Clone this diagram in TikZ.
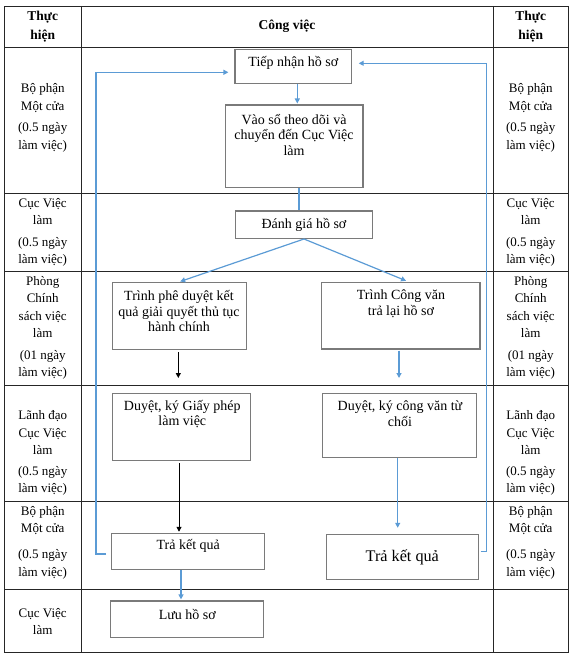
\documentclass[tikz,border=0pt]{standalone}
\usepackage{fontspec}
\setmainfont{Liberation Serif}
\usetikzlibrary{arrows.meta}
\definecolor{flowblue}{HTML}{5B9BD5}
\definecolor{boxgray}{HTML}{7A7A7A}
\begin{document}
\begin{tikzpicture}[x=1pt,y=-1pt,
  grid/.style={line width=0.9pt, draw=black!85},
  box/.style={draw=boxgray, line width=1.1pt, inner sep=0pt},
  boxtext/.style={align=center, font=\fontsize{14}{15.5}\selectfont, inner sep=0pt},
  cell/.style={align=center, font=\fontsize{13}{17.5}\selectfont, inner sep=0pt},
  head/.style={align=center, font=\bfseries\fontsize{13.5}{19}\selectfont, inner sep=0pt},
  flow/.style={draw=flowblue, line width=1.2pt, -{Triangle[width=5pt,length=5pt]}},
  flowline/.style={draw=flowblue, line width=1.2pt},
  blk/.style={draw=black, line width=1pt, -{Triangle[width=5pt,length=5pt]}}]
\useasboundingbox (0,0) rectangle (576,663);

% table
\draw[grid] (4,6) rectangle (568.5,652);
\draw[grid] (81.5,6) -- (81.5,652);
\draw[grid] (493,6) -- (493,652);
\foreach \yy in {47,193.5,271,385,501.7,589} \draw[grid] (4,\yy) -- (568.5,\yy);

% headers
\node[head] (h1) at (42.7,26.2) {Thực\\hiện};
\node[head] (h2) at (287,26.5) {Công việc};
\node[head] (h3) at (530.7,26.2) {Thực\\hiện};

% left column
\node[cell] (l1) at (42.7,118) {Bộ phận\\Một cửa\\[4pt](0.5 ngày\\làm việc)};
\node[cell] (l2) at (42.7,232.5) {Cục Việc\\làm\\[4pt](0.5 ngày\\làm việc)};
\node[cell] (l3) at (42.7,328) {Phòng\\Chính\\sách việc\\làm\\[4pt](01 ngày\\làm việc)};
\node[cell] (l4) at (42.7,453) {Lãnh đạo\\Cục Việc\\làm\\[3pt](0.5 ngày\\làm việc)};
\node[cell] (l5) at (42.7,542.7) {Bộ phận\\Một cửa\\[8.5pt](0.5 ngày\\làm việc)};
\node[cell] (l6) at (42.7,621.7) {Cục Việc\\làm};

% right column
\node[cell] (r1) at (530.7,118) {Bộ phận\\Một cửa\\[4pt](0.5 ngày\\làm việc)};
\node[cell] (r2) at (530.7,232.5) {Cục Việc\\làm\\[4pt](0.5 ngày\\làm việc)};
\node[cell] (r3) at (530.7,328) {Phòng\\Chính\\sách việc\\làm\\[4pt](01 ngày\\làm việc)};
\node[cell] (r4) at (530.7,453) {Lãnh đạo\\Cục Việc\\làm\\[3pt](0.5 ngày\\làm việc)};
\node[cell] (r5) at (530.7,542.7) {Bộ phận\\Một cửa\\[8.5pt](0.5 ngày\\làm việc)};

% boxes
\node[box, minimum width=116.7pt, minimum height=34pt] (tn) at (293.3,66.3) {};
\node[box, minimum width=137.3pt, minimum height=82.3pt] (vs) at (294.3,146.2) {};
\node[box, minimum width=136.6pt, minimum height=27.5pt] (dg) at (304,224.7) {};
\node[box, minimum width=133.7pt, minimum height=66.6pt] (tp) at (179.2,316) {};
\node[box, minimum width=158.3pt, minimum height=66.3pt] (tc) at (400.8,315.8) {};
\node[box, minimum width=138.4pt, minimum height=66.7pt] (gp) at (181.5,426.7) {};
\node[box, minimum width=154pt, minimum height=64.4pt] (dc) at (399.7,425.5) {};
\node[box, minimum width=152.6pt, minimum height=36pt] (kq1) at (188,551.3) {};
\node[box, minimum width=152.3pt, minimum height=45.3pt] (kq2) at (402.2,556.7) {};
\node[box, minimum width=153.3pt, minimum height=36.7pt] (lu) at (186.7,619.3) {};

% box texts
\node[boxtext] (tnt) at (293.3,62.7) {Tiếp nhận hồ sơ};
\node[boxtext] (vst) at (294,134.5) {Vào sổ theo dõi và\\chuyển đến Cục Việc\\làm};
\node[boxtext] (dgt) at (304,224.5) {Đánh giá hồ sơ};
\node[boxtext] (tpt) at (179,311.2) {Trình phê duyệt kết\\quả giải quyết thủ tục\\hành chính};
\node[boxtext] (tct) at (401,303.7) {Trình Công văn\\trả lại hồ sơ};
\node[boxtext] (gpt) at (182.3,413.9) {Duyệt, ký Giấy phép\\làm việc};
\node[boxtext] (dct) at (400,413.9) {Duyệt, ký công văn từ\\chối};
\node[boxtext] (kq1t) at (188.3,545.7) {Trả kết quả};
\node[boxtext, font=\fontsize{16.2}{19}\selectfont] (kq2t) at (402.3,557.3) {Trả kết quả};
\node[boxtext] (lut) at (187.3,614.3) {Lưu hồ sơ};

% end points of short arrows and loop corners
\coordinate (a1) at (178.3,378);
\coordinate (a2) at (399,378);
\coordinate (lc) at (96,72.3);
\coordinate (rc) at (486.7,63.3);

% connectors
\draw[flow, shorten >=1pt] ([xshift=4pt]tn.south) -- ([xshift=3pt]vs.north);
\draw[flowline] ([xshift=4.7pt]vs.south) -- ([xshift=-5pt]dg.north);
\draw[flow, shorten >=2pt] (dg.south) -- ([xshift=-0.9pt]tp.north);
\draw[flow, shorten >=3.5pt] (dg.south) -- ([xshift=8.5pt]tc.north);
\draw[blk, shorten <=2.4pt] ([xshift=-0.9pt]tp.south) -- (a1);
\draw[flow, shorten <=1pt] ([xshift=-1.8pt]tc.south) -- (a2);
\draw[blk, shorten <=2.7pt, shorten >=1pt] ([xshift=-2.5pt]gp.south) -- ([xshift=-2.5pt]gp.south |- kq1.north);
\draw[flow, shorten >=5.7pt] ([xshift=-2pt]dc.south) -- ([xshift=-2pt]dc.south |- kq2.north);
\draw[flow, shorten >=1pt] ([xshift=-7pt]kq1.south) -- ([xshift=-7pt]kq1.south |- lu.north);
\draw[flow, shorten >=6pt] ([xshift=-5pt,yshift=-2.7pt]kq1.west) -| (lc) -- ([yshift=-6pt]tn.west);
\draw[flow, shorten >=6.5pt] ([xshift=1.7pt,yshift=5pt]kq2.east) -| (rc) -- ([yshift=3pt]tn.east);
\end{tikzpicture}
\end{document}
